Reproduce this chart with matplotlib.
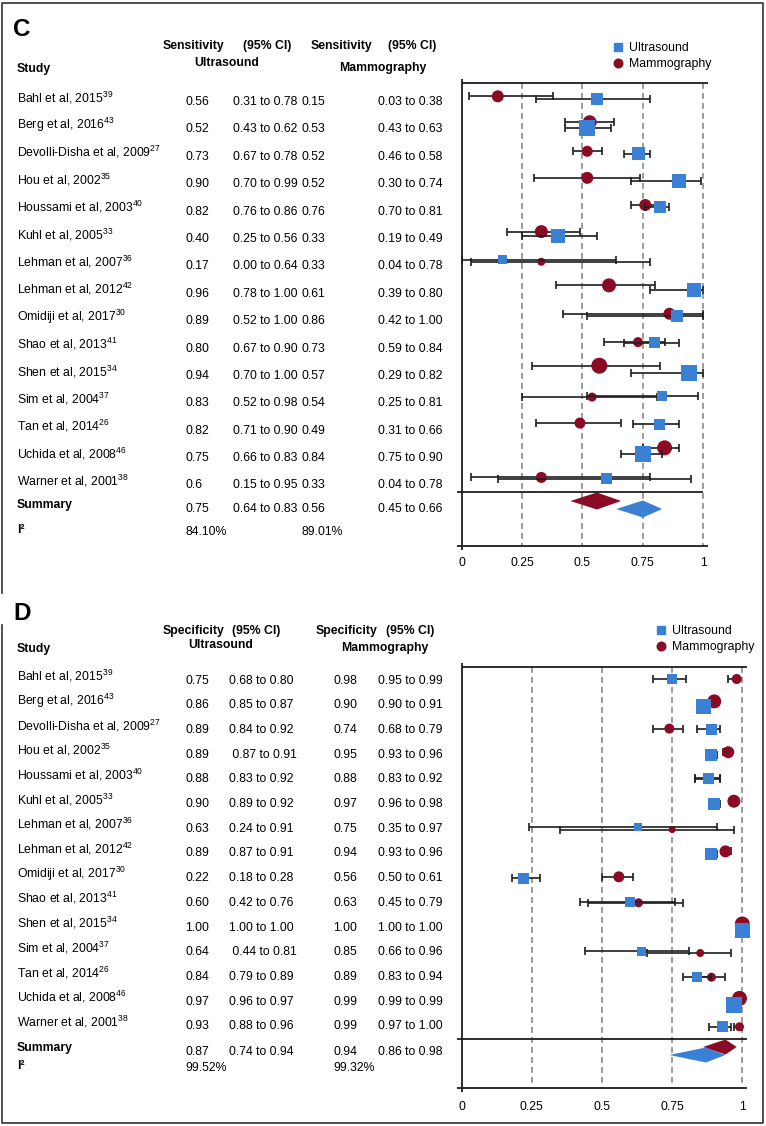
import numpy as np
import matplotlib.pyplot as plt
from matplotlib.lines import Line2D

plt.rcParams['font.family'] = ['Liberation Sans', 'DejaVu Sans']
plt.rcParams['mathtext.fontset'] = 'custom'
plt.rcParams['mathtext.rm'] = 'Liberation Sans'
plt.rcParams['mathtext.it'] = 'Liberation Sans:italic'
plt.rcParams['mathtext.bf'] = 'Liberation Sans:bold'

W, H = 766, 1126
BLUE = "#3a80d4"
RED = "#8b0a26"
INK = "#1e1e1e"
FS = 8.8

# ---- data ----
studies = ["Bahl et al, 2015", "Berg et al, 2016", "Devolli-Disha et al, 2009", "Hou et al, 2002",
           "Houssami et al, 2003", "Kuhl et al, 2005", "Lehman et al, 2007", "Lehman et al, 2012",
           "Omidiji et al, 2017", "Shao et al, 2013", "Shen et al, 2015", "Sim et al, 2004",
           "Tan et al, 2014", "Uchida et al, 2008", "Warner et al, 2001"]
refs = ["39", "43", "27", "35", "40", "33", "36", "42", "30", "41", "34", "37", "26", "46", "38"]

# sensitivity (panel C)
sens_us = [0.56, 0.52, 0.73, 0.90, 0.82, 0.40, 0.17, 0.96, 0.89, 0.80, 0.94, 0.83, 0.82, 0.75, 0.60]
sens_us_lo = [0.31, 0.43, 0.67, 0.70, 0.76, 0.25, 0.00, 0.78, 0.52, 0.67, 0.70, 0.52, 0.71, 0.66, 0.15]
sens_us_hi = [0.78, 0.62, 0.78, 0.99, 0.86, 0.56, 0.64, 1.00, 1.00, 0.90, 1.00, 0.98, 0.90, 0.83, 0.95]
sens_mg = [0.15, 0.53, 0.52, 0.52, 0.76, 0.33, 0.33, 0.61, 0.86, 0.73, 0.57, 0.54, 0.49, 0.84, 0.33]
sens_mg_lo = [0.03, 0.43, 0.46, 0.30, 0.70, 0.19, 0.04, 0.39, 0.42, 0.59, 0.29, 0.25, 0.31, 0.75, 0.04]
sens_mg_hi = [0.38, 0.63, 0.58, 0.74, 0.81, 0.49, 0.78, 0.80, 1.00, 0.84, 0.82, 0.81, 0.66, 0.90, 0.78]
sens_summary_us = (0.75, 0.64, 0.83)
sens_summary_mg = (0.56, 0.45, 0.66)
sens_i2 = ("84.10%", "89.01%")
sens_w_us = [12, 16, 13, 14, 12, 14, 9, 14, 12, 11, 16, 10, 11, 16, 11]
sens_w_mg = [12, 14, 11, 12, 12, 13, 8, 14, 12, 10, 16, 9, 11, 15, 11]

# specificity (panel D)
spec_us = [0.75, 0.86, 0.89, 0.89, 0.88, 0.90, 0.63, 0.89, 0.22, 0.60, 1.00, 0.64, 0.84, 0.97, 0.93]
spec_us_lo = [0.68, 0.85, 0.84, 0.87, 0.83, 0.89, 0.24, 0.87, 0.18, 0.42, 1.00, 0.44, 0.79, 0.96, 0.88]
spec_us_hi = [0.80, 0.87, 0.92, 0.91, 0.92, 0.92, 0.91, 0.91, 0.28, 0.76, 1.00, 0.81, 0.89, 0.97, 0.96]
spec_mg = [0.98, 0.90, 0.74, 0.95, 0.88, 0.97, 0.75, 0.94, 0.56, 0.63, 1.00, 0.85, 0.89, 0.99, 0.99]
spec_mg_lo = [0.95, 0.90, 0.68, 0.93, 0.83, 0.96, 0.35, 0.93, 0.50, 0.45, 1.00, 0.66, 0.83, 0.99, 0.97]
spec_mg_hi = [0.99, 0.91, 0.79, 0.96, 0.92, 0.98, 0.97, 0.96, 0.61, 0.79, 1.00, 0.96, 0.94, 0.99, 1.00]
spec_summary_us = (0.87, 0.74, 0.94)
spec_summary_mg = (0.94, 0.86, 0.98)
spec_i2 = ("99.52%", "99.32%")
spec_w_us = [10, 15, 11, 12, 11, 12, 8, 12, 11, 10, 15, 9, 10, 16, 11]
spec_w_mg = [10, 14, 10, 12, 10, 13, 7, 12, 11, 9, 15, 8, 9, 15, 9]

ticks = [0, 0.25, 0.5, 0.75, 1]
tick_labels = ["0", "0.25", "0.5", "0.75", "1"]


def fmt(v):
    return f"{v:.2f}"


fig = plt.figure(figsize=(W / 100, H / 100), dpi=100)
bg = fig.add_axes([0, 0, 1, 1])
bg.set_xlim(0, W)
bg.set_ylim(H, 0)
bg.axis('off')

# outer frame
bg.plot([2, 2, 763, 763, 2, 2], [593, 2.5, 2.5, 1123, 1123, 625], color="#333333", lw=1.2)


def draw_panel(letter, measure, us, us_lo, us_hi, mg, mg_lo, mg_hi, summ_us, summ_mg, i2,
               w_us, w_mg, L, us_labels=None, us_ci_labels=None):
    # ---- table ----
    bg.text(13, L["letter_y"], letter, fontsize=17.5, fontweight='bold', va='center', ha='left')
    bg.text(17, L["study_y"], "Study", fontsize=FS, fontweight='bold', va='center')
    bg.text(L["h1"], L["head_y"], measure, fontsize=FS, fontweight='bold', va='center')
    bg.text(L["h2"], L["head_y"], "(95% CI)", fontsize=FS, fontweight='bold', va='center')
    bg.text(L["h3"], L["head_y"], measure, fontsize=FS, fontweight='bold', va='center')
    bg.text(L["h4"], L["head_y"], "(95% CI)", fontsize=FS, fontweight='bold', va='center')
    bg.text(L["us_x"], L["us_y"], "Ultrasound", fontsize=FS, fontweight='bold', va='center', ha='center')
    bg.text(L["mg_x"], L["mg_y"], "Mammography", fontsize=FS, fontweight='bold', va='center', ha='center')

    if us_labels is None:
        us_labels = [fmt(v) for v in us]
    if us_ci_labels is None:
        us_ci_labels = [f"{fmt(a)} to {fmt(b)}" for a, b in zip(us_lo, us_hi)]
    cols = L["cols"]
    for i, name in enumerate(studies):
        ny = L["name_y0"] + i * L["name_step"]
        vy = ny + 4.5
        bg.text(17, ny, name + "$^{" + refs[i] + "}$", fontsize=FS, va='center')
        bg.text(cols[0], vy, us_labels[i], fontsize=FS, va='center')
        bg.text(cols[1], vy, us_ci_labels[i], fontsize=FS, va='center')
        bg.text(cols[2], vy, fmt(mg[i]), fontsize=FS, va='center')
        bg.text(cols[3], vy, f"{fmt(mg_lo[i])} to {fmt(mg_hi[i])}", fontsize=FS, va='center')
    sy = L["summ_name_y"]
    bg.text(17, sy, "Summary", fontsize=FS, fontweight='bold', va='center')
    bg.text(cols[0], sy + 4, fmt(summ_us[0]), fontsize=FS, va='center')
    bg.text(cols[1], sy + 4, f"{fmt(summ_us[1])} to {fmt(summ_us[2])}", fontsize=FS, va='center')
    bg.text(cols[2], sy + 4, fmt(summ_mg[0]), fontsize=FS, va='center')
    bg.text(cols[3], sy + 4, f"{fmt(summ_mg[1])} to {fmt(summ_mg[2])}", fontsize=FS, va='center')
    iy = L["i2_y"]
    bg.text(17, iy, "I²", fontsize=FS, fontweight='bold', va='center')
    bg.text(cols[0], iy + 2, i2[0], fontsize=FS, va='center')
    bg.text(cols[2], iy + 2, i2[1], fontsize=FS, va='center')

    # ---- forest plot ----
    z, sc = L["zero"], L["scale"]
    x0, x1, y0, y1 = L["box"]
    ax = fig.add_axes([x0 / W, 1 - y1 / H, (x1 - x0) / W, (y1 - y0) / H])
    ax.set_xlim((x0 - z) / sc, (x1 - z) / sc)
    ax.set_ylim(y1, y0)
    ax.axis('off')

    top, bot = L["top_y"], L["bot_y"]
    ext_l, ext_r = L["ext_l"], L["ext_r"]
    ax.vlines(ticks[1:], top, bot, colors="#8a8a8a", linestyles=(0, (3.5, 2.5)), lw=1.2, zorder=1)
    ax.hlines(top, 0, ext_r, colors=INK, lw=1.3, zorder=6)
    ax.hlines(bot, ext_l, ext_r, colors=INK, lw=1.3, zorder=6)
    ax.hlines(L["sep_y"], ext_l, L["sep_r"], colors=INK, lw=1.3, zorder=6)
    ax.vlines(0, top - 4, bot + 4, colors=INK, lw=1.3, zorder=6)
    for t, lab in zip(ticks, tick_labels):
        ax.text(t, L["tick_y"], lab, fontsize=FS, ha='center', va='center')

    rows = L["row_y0"] + np.arange(len(studies)) * L["row_step"]
    w_us = np.array(w_us, float)
    w_mg = np.array(w_mg, float)
    y_mg = rows - (w_mg - 10) * 0.6
    y_us = rows + (w_us - 10) * 0.6
    mg, mg_lo, mg_hi = map(np.array, (mg, mg_lo, mg_hi))
    us, us_lo, us_hi = map(np.array, (us, us_lo, us_hi))

    ekw = dict(fmt='none', ecolor=INK, elinewidth=1.2, capsize=2.6, capthick=1.2)
    ax.errorbar(mg, y_mg, xerr=[mg - mg_lo, mg_hi - mg], zorder=2, **ekw)
    ax.scatter(mg, y_mg, s=(w_mg * 0.72) ** 2, marker='o', color=RED, lw=0, zorder=3)
    ax.errorbar(us, y_us, xerr=[us - us_lo, us_hi - us], zorder=4, **ekw)
    ax.scatter(us, y_us, s=(w_us * 0.72) ** 2, marker='s', color=BLUE, lw=0, zorder=5)

    # summary diamonds
    cy = L["summ_y"]
    h = L["dia_h"]
    e, lo, hi = summ_mg
    ax.fill([lo, e, hi, e], [cy - 4, cy - 4 - h, cy - 4, cy - 4 + h], color=RED, lw=0, zorder=3)
    e, lo, hi = summ_us
    ax.fill([lo, e, hi, e], [cy + 4, cy + 4 - h, cy + 4, cy + 4 + h], color=BLUE, lw=0, zorder=5)

    handles = [Line2D([], [], marker='s', color=BLUE, ls='none', markersize=6.2),
               Line2D([], [], marker='o', color=RED, ls='none', markersize=6.2)]
    fig.legend(handles=handles, labels=["Ultrasound", "Mammography"], loc='upper left',
               bbox_to_anchor=(L["leg_x"] / W, 1 - L["leg_y"] / H), frameon=False,
               fontsize=FS, borderpad=0, handlelength=0.8, handletextpad=0.5,
               labelspacing=0.35, borderaxespad=0)


layout_c = dict(letter_y=30, study_y=69, head_y=45.5, us_y=63, mg_y=67.5,
                h1=163, h2=243, h3=311, h4=388, us_x=226.5, mg_x=382.5,
                cols=[185, 233, 302, 378],
                name_y0=97.5, name_step=27.39, summ_name_y=505, i2_y=530,
                zero=461.5, scale=241.8, box=(440, 720, 70, 580),
                top_y=83.3, bot_y=545.7, sep_y=491.7, ext_l=-0.02, ext_r=1.019, sep_r=1.0,
                tick_y=563, row_y0=97.5, row_step=27.18, summ_y=505, dia_h=8.5,
                leg_x=613.5, leg_y=42)

layout_d = dict(letter_y=614, study_y=649, head_y=631, us_y=645, mg_y=648,
                h1=163, h2=232, h3=316, h4=386, us_x=220.5, mg_x=385,
                cols=[185, 229, 333, 378],
                name_y0=676, name_step=24.71, summ_name_y=1048, i2_y=1066,
                zero=461.7, scale=280.6, box=(440, 760, 655, 1118),
                top_y=667.3, bot_y=1088.3, sep_y=1038.7, ext_l=-0.018, ext_r=1.017, sep_r=1.017,
                tick_y=1106.5, row_y0=679, row_step=24.8, summ_y=1051, dia_h=7.5,
                leg_x=656, leg_y=625)

draw_panel("C", "Sensitivity", sens_us, sens_us_lo, sens_us_hi, sens_mg, sens_mg_lo, sens_mg_hi,
           sens_summary_us, sens_summary_mg, sens_i2, sens_w_us, sens_w_mg, layout_c,
           us_labels=[fmt(v) if i != 14 else "0.6" for i, v in enumerate(sens_us)])

spec_ci = [f"{fmt(a)} to {fmt(b)}" for a, b in zip(spec_us_lo, spec_us_hi)]
spec_ci[3] = " " + spec_ci[3]
spec_ci[11] = " " + spec_ci[11]
draw_panel("D", "Specificity", spec_us, spec_us_lo, spec_us_hi, spec_mg, spec_mg_lo, spec_mg_hi,
           spec_summary_us, spec_summary_mg, spec_i2, spec_w_us, spec_w_mg, layout_d,
           us_ci_labels=spec_ci)

fig.savefig("out.png", dpi=100)
